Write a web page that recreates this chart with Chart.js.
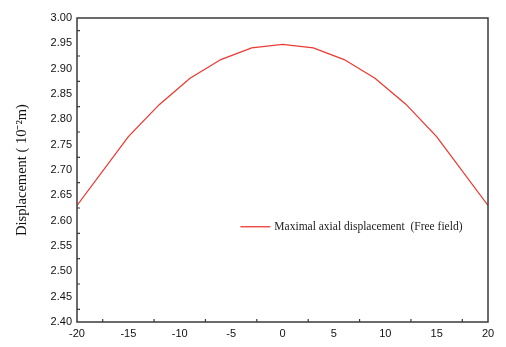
<!DOCTYPE html>
<html>
<head>
<meta charset="utf-8">
<script src="https://cdn.jsdelivr.net/npm/chart.js@4"></script>
<style>
  html, body { margin: 0; padding: 0; background: #fff; }
  #wrap { width: 506px; height: 347px; }
</style>
</head>
<body>
<div id="wrap"><canvas id="c" width="506" height="347"></canvas></div>
<script>
// ─── Data ────────────────────────────────────────────────────────────────────
const xVals  = [-20, -15, -12, -9, -6, -3, 0, 3, 6, 9, 12, 15, 20];
const dispVals = [2.630, 2.766, 2.829, 2.881, 2.918, 2.941, 2.948, 2.941, 2.918, 2.881, 2.830, 2.766, 2.630];
const seriesLabel = 'Maximal axial displacement  (Free field)';
const yTitle = 'Displacement ( 10\u207B\u00B2m)';
const xMinorTicks = [-17.5, -12.5, -7.5, -2.5, 2.5, 7.5, 12.5, 17.5];
const yMinorTicks = [2.425, 2.475, 2.525, 2.575, 2.625, 2.675, 2.725, 2.775, 2.825, 2.875, 2.925, 2.975];

const LINE_RED = '#ec3b32';
const FRAME = '#3a3a3a';
const TICK_FONT = { family: 'Liberation Sans', size: 11 };

// frame, inward minor ticks and in-plot legend
const framePlugin = {
  id: 'frame',
  afterDatasetsDraw(chart) {
    const { ctx, chartArea: a, scales: { x, y } } = chart;
    ctx.save();
    ctx.strokeStyle = FRAME;
    ctx.lineWidth = 1.5;
    ctx.strokeRect(a.left, a.top, a.right - a.left, a.bottom - a.top);
    ctx.lineWidth = 1.2;
    ctx.beginPath();
    xMinorTicks.forEach(v => {
      const px = x.getPixelForValue(v);
      ctx.moveTo(px, a.bottom); ctx.lineTo(px, a.bottom - 3);
    });
    yMinorTicks.forEach(v => {
      const py = y.getPixelForValue(v);
      ctx.moveTo(a.left, py); ctx.lineTo(a.left + 3, py);
    });
    ctx.stroke();

    // legend
    const lx = x.getPixelForValue(-4.1), ly = y.getPixelForValue(2.588);
    ctx.strokeStyle = LINE_RED;
    ctx.lineWidth = 1.3;
    ctx.beginPath();
    ctx.moveTo(lx, ly); ctx.lineTo(lx + 30, ly);
    ctx.stroke();
    ctx.fillStyle = '#222';
    ctx.font = '11.5px "Liberation Serif"';
    ctx.textBaseline = 'middle';
    ctx.fillText(seriesLabel, lx + 34, ly + 0.5);
    ctx.restore();
  }
};

new Chart(document.getElementById('c'), {
  type: 'line',
  data: {
    datasets: [{
      label: seriesLabel,
      data: xVals.map((v, i) => ({ x: v, y: dispVals[i] })),
      borderColor: LINE_RED,
      borderWidth: 1.3,
      pointRadius: 0,
      tension: 0,
      fill: false
    }]
  },
  options: {
    responsive: false,
    animation: false,
    layout: { padding: { left: 0, top: 18, right: 18, bottom: 0 } },
    plugins: { legend: { display: false }, tooltip: { enabled: false } },
    scales: {
      x: {
        type: 'linear', min: -20, max: 20,
        grid: { display: false, drawTicks: false },
        border: { display: false },
        ticks: { stepSize: 5, color: '#111', font: TICK_FONT, padding: 5, maxRotation: 0 },
        afterFit(s) { s.height = 25; }
      },
      y: {
        type: 'linear', min: 2.4, max: 3.0,
        grid: { display: false, drawTicks: false },
        border: { display: false },
        ticks: { stepSize: 0.05, color: '#111', font: TICK_FONT, padding: 5,
                 callback: v => Number(v).toFixed(2) },
        title: { display: true, text: yTitle, color: '#111',
                 font: { family: 'Liberation Serif', size: 14.5 }, padding: { top: 13, bottom: 0 } },
        afterFit(s) { s.width = 77; }
      }
    }
  },
  plugins: [framePlugin]
});
</script>
</body>
</html>
